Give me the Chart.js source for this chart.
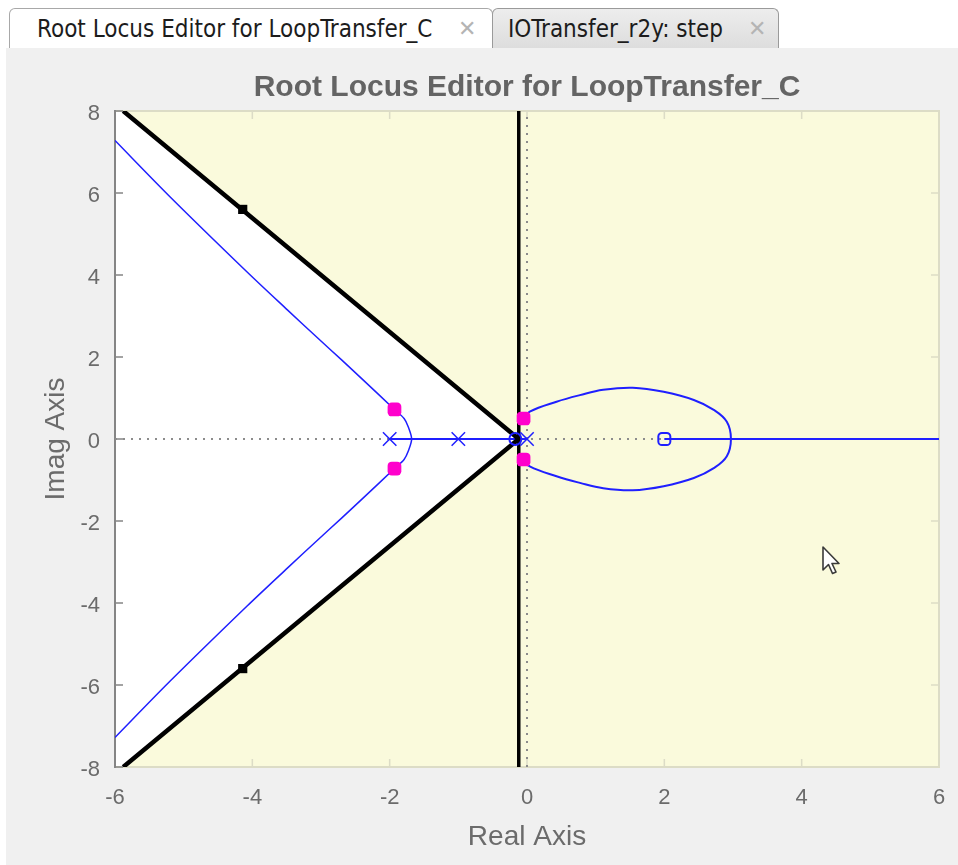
<!DOCTYPE html>
<html>
<head>
<meta charset="utf-8">
<title>Root Locus Editor for LoopTransfer_C</title>
<script src="https://cdn.jsdelivr.net/npm/chart.js@4.4.1/dist/chart.umd.min.js"></script>
<style>
html, body { margin: 0; padding: 0; width: 958px; height: 865px; overflow: hidden; background: #fff; }
#pane { position: absolute; left: 6px; top: 48px; width: 952px; height: 817px; background: #f0f0f0; }
.tab { position: absolute; top: 8px; height: 40px; box-sizing: border-box; border: 1px solid #a8a8a8; border-bottom: none;
  border-radius: 6px 6px 0 0; font-family: "Liberation Sans Narrow", "DejaVu Sans Condensed", sans-serif; font-size: 24px;
  color: #1c1c1c; line-height: 40px; white-space: nowrap; }
.tab .x { position: absolute; top: 0; font-family: "DejaVu Sans", sans-serif; font-size: 22px; color: #b4b4b4; }
#tab1 { left: 9px; width: 484px; background: #fff; }
#tab2 { left: 492px; width: 287px; background: linear-gradient(#ededed, #dddddd); border-color: #9a9a9a; }
#wrap { position: absolute; left: 0; top: 0; width: 958px; height: 865px; }
#cursor { position: absolute; left: 822px; top: 546px; }
</style>
</head>
<body>
<div id="pane"></div>
<div class="tab" id="tab1"><span style="position:absolute;left:27px">Root Locus Editor for LoopTransfer_C</span><span class="x" style="left:448px">✕</span></div>
<div class="tab" id="tab2"><span style="position:absolute;left:15px">IOTransfer_r2y: step</span><span class="x" style="left:255px">✕</span></div>
<div id="wrap"><canvas id="myChart"></canvas></div>
<svg id="cursor" width="20" height="30" viewBox="0 0 20 30"><path d="M1 1 L1 24 L6.5 18.5 L10.5 27.5 L14 26 L10 17.5 L17 17.5 Z" fill="#fff" stroke="#3a3a3a" stroke-width="1.6" stroke-linejoin="round"/></svg>

<script>
var xTicks = [-6, -4, -2, 0, 2, 4, 6]
var yTicks = [-8, -6, -4, -2, 0, 2, 4, 6, 8]

// open-loop poles and zeros
var poleRe = [-2, -1, 0]
var poleIm = [0, 0, 0]
var zeroRe = [-0.17, 2]
var zeroIm = [0, 0]

// complex pair of branches through the breakaway point near -1.7 (top to bottom)
var branchX = [-6, -5.2, -4.08, -3.49, -3.04, -2.70, -2.38, -1.93, -1.79, -1.73, -1.68,
               -1.73, -1.79, -1.93, -2.38, -2.70, -3.04, -3.49, -4.08, -5.2, -6]
var branchY = [7.28, 5.91, 4.08, 3.15, 2.45, 1.93, 1.43, 0.72, 0.50, 0.30, 0,
               -0.30, -0.50, -0.72, -1.43, -1.93, -2.45, -3.15, -4.08, -5.91, -7.28]

// loop in the right half plane (upper half left to right, then lower half back)
var loopX = [-0.05, 0.04, 0.43, 0.77, 1.11, 1.54, 1.99, 2.43, 2.72, 2.91, 2.97,
             2.91, 2.72, 2.43, 1.99, 1.54, 1.11, 0.77, 0.43, 0.04, -0.05]
var loopY = [0.50, 0.67, 0.91, 1.07, 1.20, 1.25, 1.15, 0.95, 0.71, 0.42, 0,
             -0.42, -0.71, -0.95, -1.15, -1.25, -1.20, -1.07, -0.91, -0.67, -0.50]

// real axis parts of the locus
var realSeg1X = [-2, 0]
var realSeg2X = [2, 6]
var realSegY = [0, 0]

// closed loop poles (magenta)
var clX = [-1.93, -1.93, -0.05, -0.05]
var clY = [0.72, -0.72, 0.50, -0.50]

// design requirement: damping cone and settling time line
var coneX = [-5.88, -0.12, -5.88]
var coneY = [8, 0, -8]
var settleX = [-0.12, -0.12]
var settleY = [-8, 8]
var coneMarkX = [-4.14, -4.14]
var coneMarkY = [5.6, -5.6]
var wedgeX = [-0.12, -5.88, -6, -6, -5.88]
var wedgeY = [0, 8, 8, -8, -8]

// dotted axes
var hAxisX = [-6, 6]
var hAxisY = [0, 0]
var vAxisX = [0, 0]
var vAxisY = [-8, 8]

function pts(xs, ys) {
  var out = []
  for (var i = 0; i < xs.length; i++) out.push({x: xs[i], y: ys[i]})
  return out
}

var blue = '#1f1fff'
var gray = '#6b6b6b'
var light = '#dcdcc6'
var font = 'Liberation Sans, Arial, sans-serif'

// shaded region, box and inward ticks, all behind the data
var regionPlugin = {
  id: 'region',
  beforeDatasetsDraw: function(chart) {
    var ctx = chart.ctx, a = chart.chartArea, sx = chart.scales.x, sy = chart.scales.y
    var len = 8
    ctx.save()
    ctx.fillStyle = '#fafadc'
    ctx.fillRect(a.left, a.top, a.width, a.height)
    ctx.beginPath()
    for (var i = 0; i < wedgeX.length; i++) {
      var px = sx.getPixelForValue(wedgeX[i]), py = sy.getPixelForValue(wedgeY[i])
      if (i == 0) ctx.moveTo(px, py); else ctx.lineTo(px, py)
    }
    ctx.closePath()
    ctx.fillStyle = '#ffffff'
    ctx.fill()

    ctx.lineWidth = 2
    ctx.strokeStyle = light
    ctx.strokeRect(a.left, a.top, a.width, a.height)
    ctx.lineWidth = 1.5
    for (var t = 0; t < xTicks.length; t++) {
      var tx = sx.getPixelForValue(xTicks[t])
      ctx.beginPath()
      ctx.moveTo(tx, a.bottom); ctx.lineTo(tx, a.bottom - len)
      ctx.moveTo(tx, a.top); ctx.lineTo(tx, a.top + len)
      ctx.stroke()
    }
    for (var j = 0; j < yTicks.length; j++) {
      var ty = sy.getPixelForValue(yTicks[j])
      ctx.beginPath()
      ctx.moveTo(a.right, ty); ctx.lineTo(a.right - len, ty)
      ctx.stroke()
    }
    ctx.strokeStyle = '#858585'
    for (var k = 0; k < yTicks.length; k++) {
      var qy = sy.getPixelForValue(yTicks[k])
      ctx.beginPath()
      ctx.moveTo(a.left, qy); ctx.lineTo(a.left + len, qy)
      ctx.stroke()
    }
    ctx.lineWidth = 2
    ctx.beginPath()
    ctx.moveTo(a.left, a.top - 1); ctx.lineTo(a.left, a.bottom + 1)
    ctx.stroke()
    ctx.restore()
  }
}

document.addEventListener("DOMContentLoaded", function(event) {

var ctx = document.getElementById("myChart")
var myChart = new Chart(ctx, {
  type: 'scatter',
  data: {
    datasets: [
      { data: pts(clX, clY), pointStyle: 'rectRounded', pointRadius: 8, pointBackgroundColor: '#ff00cc', pointBorderWidth: 0, order: 0 },
      { data: pts(poleRe, poleIm), pointStyle: 'crossRot', pointRadius: 9.5, pointBorderColor: blue, pointBorderWidth: 1.5, order: 1 },
      { data: pts(zeroRe, zeroIm), pointStyle: ['circle', 'rectRounded'], pointRadius: [6, 7], pointBorderColor: blue, pointBackgroundColor: 'rgba(0,0,0,0)', pointBorderWidth: 2, order: 1 },
      { data: pts(coneMarkX, coneMarkY), pointStyle: 'rect', pointRadius: 6.5, pointBackgroundColor: '#000', pointBorderWidth: 0, order: 2 },
      { data: pts(coneX, coneY), showLine: true, borderColor: '#000', borderWidth: 4.5, pointRadius: 0, order: 3 },
      { data: pts(settleX, settleY), showLine: true, borderColor: '#000', borderWidth: 3.5, pointRadius: 0, order: 3 },
      { data: pts(branchX, branchY), showLine: true, borderColor: blue, borderWidth: 1.5, tension: 0.3, pointRadius: 0, order: 4 },
      { data: pts(loopX, loopY), showLine: true, borderColor: blue, borderWidth: 2, tension: 0.4, pointRadius: 0, order: 4 },
      { data: pts(realSeg1X, realSegY), showLine: true, borderColor: blue, borderWidth: 2, pointRadius: 0, order: 4 },
      { data: pts(realSeg2X, realSegY), showLine: true, borderColor: blue, borderWidth: 2, pointRadius: 0, order: 4 },
      { data: pts(hAxisX, hAxisY), showLine: true, borderColor: '#8c8c8c', borderWidth: 2, borderDash: [2, 6], pointRadius: 0, order: 5 },
      { data: pts(vAxisX, vAxisY), showLine: true, borderColor: '#8c8c8c', borderWidth: 2, borderDash: [2, 6], pointRadius: 0, order: 5 }
    ]
  },
  options: {
    responsive: true,
    maintainAspectRatio: false,
    animation: false,
    events: [],
    layout: { padding: { left: 0, right: 19, top: 0, bottom: 0 } },
    plugins: {
      legend: { display: false },
      tooltip: { enabled: false },
      title: {
        display: true,
        fullSize: false,
        text: 'Root Locus Editor for LoopTransfer_C',
        color: '#646464',
        font: { family: font, size: 30, weight: 'bold', lineHeight: 1.2 },
        padding: { top: 70, bottom: 5 }
      }
    },
    scales: {
      x: {
        type: 'linear', min: -6, max: 6,
        afterBuildTicks: function(s) { s.ticks = xTicks.map(function(v) { return {value: v} }) },
        afterFit: function(s) { s.height = 98; s.paddingLeft = 0; s.paddingRight = 0 },
        grid: { display: false, drawTicks: false },
        border: { display: false },
        ticks: { color: gray, font: { family: font, size: 22 }, padding: 18, maxRotation: 0, autoSkip: false },
        title: { display: true, text: 'Real Axis', color: gray, font: { family: font, size: 28, lineHeight: 1.2 }, padding: { top: 0, bottom: 11 } }
      },
      y: {
        type: 'linear', min: -8, max: 8,
        afterBuildTicks: function(s) { s.ticks = yTicks.map(function(v) { return {value: v} }) },
        afterFit: function(s) { s.width = 115; s.paddingTop = 0; s.paddingBottom = 0 },
        grid: { display: false, drawTicks: false },
        border: { display: false },
        ticks: { color: gray, font: { family: font, size: 22 }, padding: 15, labelOffset: 3, autoSkip: false },
        title: { display: true, text: 'Imag Axis', color: gray, font: { family: font, size: 28, lineHeight: 1.2 }, padding: { top: 39, bottom: 0 } }
      }
    }
  },
  plugins: [regionPlugin]
})

})
</script>
</body>
</html>
